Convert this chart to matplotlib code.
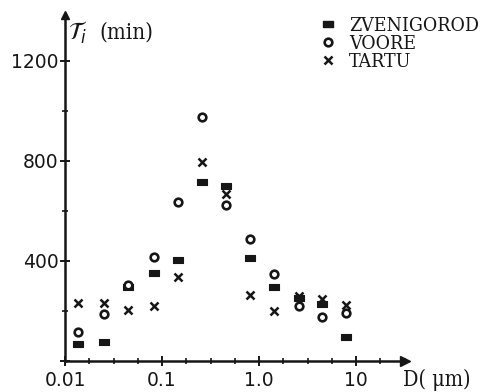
import matplotlib
matplotlib.use("Agg")
import matplotlib.pyplot as plt
from matplotlib.lines import Line2D
from matplotlib.ticker import FixedLocator, FixedFormatter, NullFormatter

# Particle diameter D (µm), bin centres
diameter = [0.0136, 0.025, 0.045, 0.083, 0.146, 0.258, 0.457, 0.81, 1.43, 2.57, 4.5, 7.9]

# Characteristic time tau_i (min) for each station
zvenigorod = [68, 76, 296, 352, 404, 716, 700, 412, 296, 252, 228, 96]
voore = [116, 188, 304, 416, 636, 976, 624, 488, 348, 220, 176, 192]
tartu = [232, 232, 204, 220, 336, 796, 668, 264, 200, 260, 248, 224]

station_names = ["ZVENIGOROD", "VOORE", "TARTU"]

x_major = [0.01, 0.1, 1.0, 10]
x_major_labels = ["0.01", "0.1", "1.0", "10"]
y_major = [0, 400, 800, 1200]
y_major_labels = ["", "400", "800", "1200"]
y_minor = [200, 600, 1000]

ink = "#161616"
typewriter = {"family": "DejaVu Serif", "stretch": "condensed"}

fig = plt.figure(figsize=(4.8, 3.92), dpi=100)
ax = fig.add_axes([65 / 480, 31 / 392, 340 / 480, 346 / 392])

ax.set_xscale("log")
ax.set_xlim(0.01, 10 ** (340 / 97 - 2))
ax.set_ylim(0, 346 * 4)

# Rectangular "bar" marker for ZVENIGOROD
rect_marker = [(-1.0, -0.6), (1.0, -0.6), (1.0, 0.6), (-1.0, 0.6), (-1.0, -0.6)]

ax.plot(diameter, zvenigorod, linestyle="none", marker=rect_marker, markersize=6.5,
        color=ink, markeredgewidth=0.8, clip_on=False)
ax.plot(diameter, voore, linestyle="none", marker="o", markersize=5.5,
        markerfacecolor="white", markeredgecolor=ink, markeredgewidth=1.9, clip_on=False)
ax.plot(diameter, tartu, linestyle="none", marker="x", markersize=6,
        color=ink, markeredgewidth=1.8, clip_on=False)

# Axes: only left and bottom, with arrow heads
for side in ("top", "right"):
    ax.spines[side].set_visible(False)
for side in ("left", "bottom"):
    ax.spines[side].set_linewidth(1.8)
    ax.spines[side].set_color(ink)

ax.plot([0], [1], marker="^", markersize=6, color=ink, transform=ax.transAxes, clip_on=False)
ax.plot([1], [0], marker=">", markersize=7, color=ink, transform=ax.transAxes, clip_on=False)

# Ticks
ax.xaxis.set_major_locator(FixedLocator(x_major))
ax.xaxis.set_major_formatter(FixedFormatter(x_major_labels))
quarter = [10 ** (e + q / 4) for e in range(-2, 2) for q in (1, 2, 3)]
ax.xaxis.set_minor_locator(FixedLocator(quarter))
ax.xaxis.set_minor_formatter(NullFormatter())

ax.yaxis.set_major_locator(FixedLocator(y_major))
ax.yaxis.set_major_formatter(FixedFormatter(y_major_labels))
ax.yaxis.set_minor_locator(FixedLocator(y_minor))

ax.tick_params(which="major", direction="inout", length=7, width=1.4, color=ink,
               labelcolor=ink, labelsize=13.5)
ax.tick_params(which="minor", direction="inout", length=5, width=1.2, color=ink)
ax.tick_params(axis="x", pad=4)
ax.tick_params(axis="y", pad=1)

# Axis titles
fig.text(68 / 480, 1 - 33 / 392, r"$\mathcal{T}_i$", fontsize=17, color=ink,
         ha="left", va="center")
fig.text(99 / 480, 1 - 33 / 392, "(min)", fontsize=16, color=ink, ha="left",
         va="center", **typewriter)
fig.text(403 / 480, 1 - 380 / 392, "D( \u03bcm)", fontsize=15.5, color=ink,
         ha="left", va="center", **typewriter)

# Legend
handles = [
    Line2D([], [], linestyle="none", marker=rect_marker, markersize=6.5, color=ink),
    Line2D([], [], linestyle="none", marker="o", markersize=5.5, markerfacecolor="white",
           markeredgecolor=ink, markeredgewidth=1.9),
    Line2D([], [], linestyle="none", marker="x", markersize=6, color=ink, markeredgewidth=1.8),
]
fig.legend(handles, station_names, loc="upper left",
           bbox_to_anchor=(320 / 480, 1 - 17 / 392), frameon=False,
           borderpad=0, borderaxespad=0, handlelength=0.8, handletextpad=0.7,
           labelspacing=0.0,
           prop={"family": "DejaVu Serif", "stretch": "condensed", "size": 14},
           labelcolor=ink)

fig.savefig("out.png", dpi=100, facecolor="white")
